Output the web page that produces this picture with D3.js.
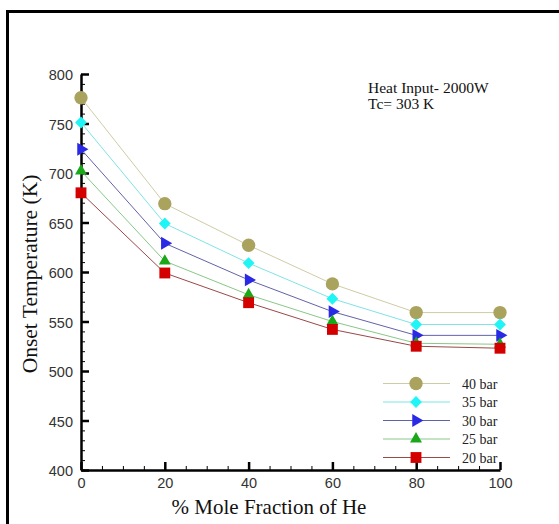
<!DOCTYPE html>
<html>
<head>
<meta charset="utf-8">
<script src="https://cdn.jsdelivr.net/npm/d3@7"></script>
<style>
	body { margin: 0; background: #fff; }
	svg { display: block; }
</style>
</head>
<body>
<div id="chart"></div>
<script>
"use strict";

// % mole fraction of He
var fractions = [0, 20, 40, 60, 80, 100];

// onset temperature (K) for each pressure
var bar40 = [776, 669, 627, 588, 559, 559];
var bar35 = [751, 649, 609, 573, 547, 547];
var bar30 = [724, 629, 592, 560, 536, 536];
var bar25 = [702, 611, 577, 550, 528, 527];
var bar20 = [680, 599, 569, 542, 525, 523];

var seriesNames = ["40 bar", "35 bar", "30 bar", "25 bar", "20 bar"];
var xTicks = [0, 20, 40, 60, 80, 100];
var yTicks = [400, 450, 500, 550, 600, 650, 700, 750, 800];

var W = 559, H = 524;
var plotLeft = 81, plotRight = 500, plotTop = 74, plotBottom = 470;

var series = [
	{ name: seriesNames[0], values: bar40, fill: "#a9a35e", line: "#cfcca4", symbol: d3.symbolCircle, size: 140, rot: 0 },
	{ name: seriesNames[1], values: bar35, fill: "#1ff5f5", line: "#7fe3e6", symbol: d3.symbolSquare, size: 70, rot: 45 },
	{ name: seriesNames[2], values: bar30, fill: "#2a2ae6", line: "#6262a8", symbol: d3.symbolTriangle, size: 72, rot: 90 },
	{ name: seriesNames[3], values: bar25, fill: "#1aa81a", line: "#88c888", symbol: d3.symbolTriangle, size: 62, rot: 0 },
	{ name: seriesNames[4], values: bar20, fill: "#d40000", line: "#9a4848", symbol: d3.symbolSquare, size: 118, rot: 0 }
];

var svg = d3.select("#chart").append("svg")
	.attr("width", W)
	.attr("height", H);

// frame, cut off at the right and bottom edges
svg.append("path")
	.attr("d", "M7.5," + H + "V11.5H" + W)
	.attr("fill", "none")
	.attr("stroke", "#000")
	.attr("stroke-width", 3);

var x = d3.scaleLinear().domain([0, 100]).range([plotLeft, plotRight]);
var y = d3.scaleLinear().domain([400, 800]).range([plotBottom, plotTop]);

// minor ticks
svg.append("g")
	.attr("transform", "translate(0," + plotBottom + ")")
	.call(d3.axisBottom(x).tickValues(d3.range(0, 101, 5)).tickSize(-4).tickFormat(""))
	.call(function(g) { g.select(".domain").remove(); g.selectAll("line").attr("stroke-width", 1); });
svg.append("g")
	.attr("transform", "translate(" + plotLeft + ",0)")
	.call(d3.axisLeft(y).tickValues(d3.range(400, 801, 10)).tickSize(-4).tickFormat(""))
	.call(function(g) { g.select(".domain").remove(); g.selectAll("line").attr("stroke-width", 1); });

// major axes
var xAxis = svg.append("g")
	.attr("transform", "translate(0," + plotBottom + ")")
	.call(d3.axisBottom(x).tickValues(xTicks).tickSize(-8).tickSizeOuter(0).tickPadding(8));
var yAxis = svg.append("g")
	.attr("transform", "translate(" + plotLeft + ",0)")
	.call(d3.axisLeft(y).tickValues(yTicks).tickSize(-8).tickSizeOuter(0).tickPadding(8));

[xAxis, yAxis].forEach(function(g) {
	g.select(".domain").attr("stroke-width", 2.5);
	g.selectAll(".tick line").attr("stroke-width", 2.5);
	g.selectAll(".tick text")
		.attr("font-family", "Liberation Sans, Arial, sans-serif")
		.attr("font-size", 14.5)
		.attr("fill", "#333");
});
yAxis.selectAll(".tick text").attr("dy", "0.4em");

// lines
var line = d3.line()
	.x(function(d, i) { return x(fractions[i]); })
	.y(function(d) { return y(d); });

series.forEach(function(s) {
	svg.append("path")
		.datum(s.values)
		.attr("d", line)
		.attr("fill", "none")
		.attr("stroke", s.line)
		.attr("stroke-width", 1);
});

function drawSymbol(g, s, px, py) {
	g.append("path")
		.attr("d", d3.symbol().type(s.symbol).size(s.size))
		.attr("transform", "translate(" + px + "," + py + ") rotate(" + s.rot + ")")
		.attr("fill", s.fill);
}

var marks = svg.append("g");
series.forEach(function(s) {
	s.values.forEach(function(v, i) {
		drawSymbol(marks, s, x(fractions[i]), y(v));
	});
});

// legend
var serif = "Liberation Serif, Times New Roman, serif";
var legend = svg.append("g");
series.forEach(function(s, i) {
	var ly = 383.5 + i * 18.5;
	legend.append("line")
		.attr("x1", 383).attr("x2", 450)
		.attr("y1", ly).attr("y2", ly)
		.attr("stroke", s.line)
		.attr("stroke-width", 1.2);
	drawSymbol(legend, s, 416, ly);
	legend.append("text")
		.attr("x", 462)
		.attr("y", ly + 5)
		.attr("font-family", serif)
		.attr("font-size", 14)
		.attr("fill", "#222")
		.text(s.name);
});

// annotation
svg.append("text")
	.attr("x", 368).attr("y", 93)
	.attr("font-family", serif).attr("font-size", 15.5).attr("fill", "#111")
	.text("Heat Input- 2000W");
svg.append("text")
	.attr("x", 368).attr("y", 109)
	.attr("font-family", serif).attr("font-size", 15.5).attr("fill", "#111")
	.text("Tc= 303 K");

// axis titles
svg.append("text")
	.attr("x", 269).attr("y", 514)
	.attr("text-anchor", "middle")
	.attr("font-family", serif).attr("font-size", 21).attr("fill", "#111")
	.text("% Mole Fraction of He");
svg.append("text")
	.attr("transform", "translate(37,274) rotate(-90)")
	.attr("text-anchor", "middle")
	.attr("font-family", serif).attr("font-size", 21.5).attr("fill", "#111")
	.text("Onset Temperature (K)");
</script>
</body>
</html>
